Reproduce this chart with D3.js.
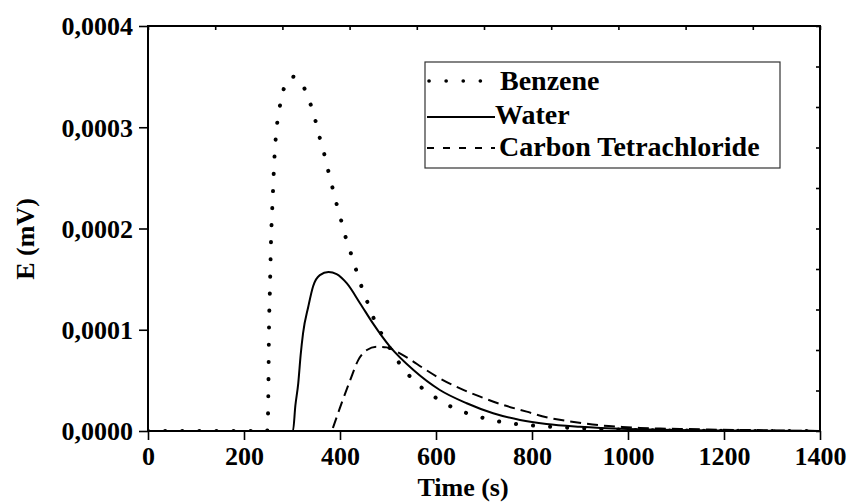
<!DOCTYPE html>
<html>
<head>
<meta charset="utf-8">
<script src="https://cdn.jsdelivr.net/npm/d3@7"></script>
<style>
  body { margin: 0; background: #fff; }
  svg text { font-family: "Liberation Serif", "DejaVu Serif", serif !important; font-weight: bold; fill: #000; }
</style>
</head>
<body>
<svg id="chart" width="849" height="503"></svg>
<script>
// time (s) and E (mV)
const benzeneT = [0, 248, 250, 251, 252, 254, 256, 260, 263, 268, 273, 280, 290, 300, 312, 323, 337, 348, 357, 367, 375, 384, 393, 403, 412, 423, 435, 446, 459, 474, 494, 515, 540, 572, 606, 640, 675, 710, 745, 780, 816, 849, 883, 950, 1050, 1150, 1400];
const benzeneE = [0, 0, 0.000016, 0.00005, 0.000098, 0.00014, 0.000183, 0.000232, 0.000266, 0.000299, 0.000316, 0.000333, 0.000346, 0.00035, 0.000348, 0.000341, 0.000325, 0.000308, 0.000291, 0.000274, 0.000258, 0.000241, 0.000224, 0.000207, 0.000191, 0.000175, 0.000157, 0.000141, 0.000125, 0.000107, 0.00009, 0.000073, 0.000057, 0.000042, 0.000031, 0.000022, 0.000016, 0.0000116, 0.0000082, 0.0000062, 0.0000049, 0.000004, 0.000003, 0.0000018, 0.0000008, 0.0000003, 0];

const waterT = [0, 302, 307, 313, 318, 323, 334, 344, 358, 376, 393, 414, 442, 469, 504, 553, 608, 664, 719, 775, 830, 900, 1000, 1100, 1200, 1400];
const waterE = [0, 0, 0.000025, 0.000047, 0.000075, 0.0000965, 0.000123, 0.000143, 0.000154, 0.000157, 0.000155, 0.000146, 0.000126, 0.000106, 0.0000833, 0.0000602, 0.0000405, 0.0000274, 0.0000175, 0.0000109, 0.0000069, 0.0000042, 0.000002, 0.0000009, 0.0000004, 0];

const carbonT = [0, 383, 386, 403, 421, 438, 456, 476, 497, 518, 542, 574, 608, 650, 692, 740, 789, 830, 879, 945, 983, 1025, 1067, 1108, 1150, 1188, 1229, 1269, 1330, 1400];
const carbonE = [0, 0, 0.000004, 0.000027, 0.00005, 0.00007, 0.00008, 0.0000833, 0.0000826, 0.0000783, 0.0000718, 0.0000619, 0.000052, 0.0000421, 0.0000339, 0.0000257, 0.0000191, 0.0000135, 0.0000095, 0.0000055, 0.0000042, 0.000003, 0.0000024, 0.000002, 0.0000017, 0.0000013, 0.000001, 0.0000009, 0.0000004, 0];

const xTicks = [0, 200, 400, 600, 800, 1000, 1200, 1400];
const yTicks = [0, 0.0001, 0.0002, 0.0003, 0.0004];
const seriesNames = ["Benzene", "Water", "Carbon Tetrachloride"];

const svg = d3.select("#chart");
const plotL = 148, plotR = 820, plotT = 26, plotB = 431;
const FONT = '"Liberation Serif", "DejaVu Serif", serif';

const x = d3.scaleLinear().domain([0, 1400]).range([plotL, plotR]);
const y = d3.scaleLinear().domain([0, 0.0004]).range([plotB, plotT]);

const locale = d3.formatLocale({ decimal: ",", thousands: ".", grouping: [3], currency: ["", ""] });
const fmtY = locale.format(".4f");

svg.append("defs").append("clipPath").attr("id", "plot")
  .append("rect").attr("x", plotL).attr("y", plotT - 2).attr("width", plotR - plotL).attr("height", plotB - plotT + 2);

// curves
const line = d3.line().x(d => x(d[0])).y(d => y(d[1])).curve(d3.curveMonotoneX);
const styles = [
  { dash: "0.1,17", width: 4, cap: "round", legendDash: "0.1,17" },
  { dash: null, width: 2, cap: "butt", legendDash: null },
  { dash: "11,6", width: 2, cap: "butt", legendDash: "7,9" }
];
const series = [
  d3.zip(benzeneT, benzeneE),
  d3.zip(waterT, waterE),
  d3.zip(carbonT, carbonE)
];

const g = svg.append("g").attr("clip-path", "url(#plot)");
series.forEach((pts, i) => {
  g.append("path").datum(pts)
    .attr("d", line)
    .attr("fill", "none")
    .attr("stroke", "#000")
    .attr("stroke-width", styles[i].width)
    .attr("stroke-linecap", styles[i].cap)
    .attr("stroke-dasharray", styles[i].dash);
});

// axes
const ax = svg.append("g").attr("transform", `translate(0,${plotB})`)
  .call(d3.axisBottom(x).tickValues(xTicks).tickFormat(d3.format("d")).tickSize(9).tickSizeOuter(0).tickPadding(6));
ax.attr("font-family", FONT);
ax.selectAll("text").attr("font-size", 26).attr("dy", "0.72em");

const ay = svg.append("g").attr("transform", `translate(${plotL},0)`)
  .call(d3.axisLeft(y).tickValues(yTicks).tickFormat(fmtY).tickSize(9).tickSizeOuter(0).tickPadding(6));
ay.attr("font-family", FONT);
ay.selectAll("text").attr("font-size", 26).attr("dy", "0.34em");

svg.append("g").attr("transform", `translate(${plotR},0)`)
  .call(d3.axisRight(y).tickValues(d3.range(0, 11).map(i => i * 0.00004)).tickSize(-4).tickSizeOuter(0).tickFormat(""));
svg.append("g").attr("transform", `translate(0,${plotT})`)
  .call(d3.axisTop(x).tickValues(d3.range(0, 11).map(i => i * 140)).tickSize(-4).tickSizeOuter(0).tickFormat(""));

svg.selectAll(".domain").remove();
svg.selectAll(".tick line").attr("stroke", "#000").attr("stroke-width", 1.6);

svg.append("rect")
  .attr("x", plotL).attr("y", plotT).attr("width", plotR - plotL).attr("height", plotB - plotT)
  .attr("fill", "none").attr("stroke", "#000").attr("stroke-width", 2);

// axis titles
svg.append("text").attr("x", 463).attr("y", 496).attr("text-anchor", "middle")
  .attr("font-family", FONT).attr("font-size", 26).text("Time (s)");
svg.append("text").attr("transform", "translate(34,239) rotate(-90)").attr("text-anchor", "middle")
  .attr("font-family", FONT).attr("font-size", 26).text("E (mV)");

// legend
const lg = svg.append("g").attr("font-family", FONT);
lg.append("rect").attr("x", 425).attr("y", 62).attr("width", 355).attr("height", 106)
  .attr("fill", "#fff").attr("stroke", "#333").attr("stroke-width", 1.2);
const rowY = [81, 117, 148];
const textY = [90, 124, 156];
const textX = [500, 495, 499];
seriesNames.forEach((name, i) => {
  lg.append("line")
    .attr("x1", i === 0 ? 429 : 427).attr("x2", 495)
    .attr("y1", rowY[i]).attr("y2", rowY[i])
    .attr("stroke", "#000")
    .attr("stroke-width", i === 0 ? 3.6 : styles[i].width)
    .attr("stroke-linecap", styles[i].cap)
    .attr("stroke-dasharray", styles[i].legendDash);
  lg.append("text").attr("x", textX[i]).attr("y", textY[i]).attr("font-size", 28).text(name);
});
</script>
</body>
</html>
